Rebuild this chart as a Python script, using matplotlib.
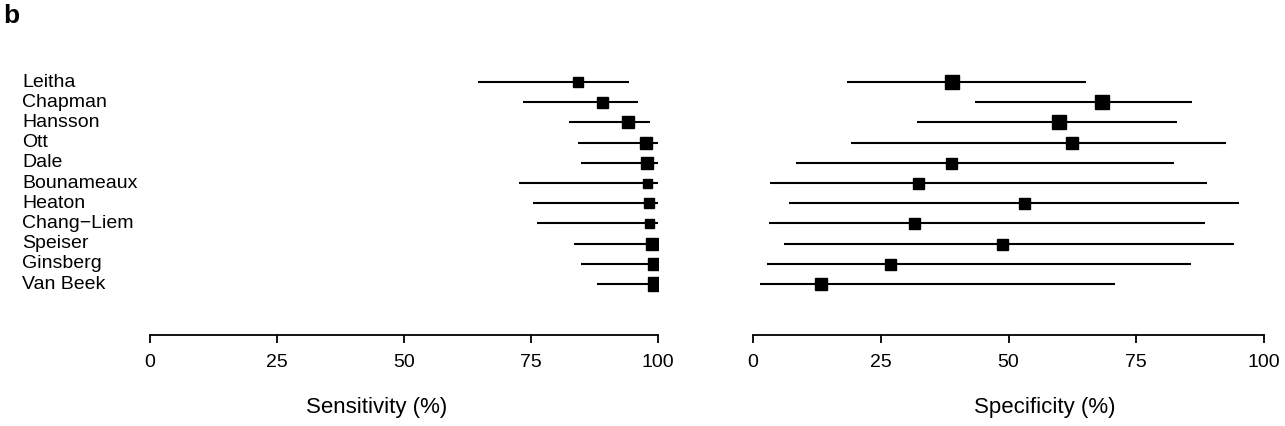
import matplotlib
matplotlib.use('Agg')
import matplotlib.pyplot as plt
import matplotlib.transforms as mtransforms
import numpy as np

# Study names, top to bottom
studies = ['Leitha', 'Chapman', 'Hansson', 'Ott', 'Dale', 'Bounameaux',
           'Heaton', 'Chang\u2212Liem', 'Speiser', 'Ginsberg', 'Van Beek']

# Sensitivity (%) point estimates and 95% CI
sens = [84.2, 88.9, 94.0, 97.6, 97.8, 97.9, 98.2, 98.3, 98.9, 99.2, 99.4]
sens_lo = [64.6, 73.5, 82.5, 84.3, 84.8, 72.7, 75.3, 76.1, 83.4, 84.8, 87.9]
sens_hi = [94.3, 96.0, 98.4, 100, 100, 100, 100, 100, 100, 100, 100]
sens_weight = [9.3, 11, 12, 12, 12, 9, 10, 9, 12, 12, 14]

# Specificity (%) point estimates and 95% CI
spec = [38.9, 68.2, 59.9, 62.5, 38.8, 32.2, 53.1, 31.6, 48.7, 26.9, 13.3]
spec_lo = [18.3, 43.4, 32.0, 19.1, 8.5, 3.4, 7.0, 3.2, 6.0, 2.8, 1.4]
spec_hi = [65.2, 86.0, 82.9, 92.6, 82.4, 88.8, 95.1, 88.5, 94.1, 85.7, 70.8]
spec_weight = [14, 14.7, 14, 11.3, 11, 11, 11, 11, 11, 11, 12]

ticks = [0, 25, 50, 75, 100]

plt.rcParams['font.family'] = ['Liberation Sans', 'DejaVu Sans']

W, H = 1285, 426
fig = plt.figure(figsize=(W / 100, H / 100), dpi=100)

y = np.arange(len(studies), 0, -1)
ax_bottom = 1 - 335 / H
ax_height = (335 - 61.8) / H

# pixel extents of the 0..100 range, label, label centre (data units)
panels = [
    (150, 658, sens, sens_lo, sens_hi, sens_weight, 'Sensitivity (%)', 44.7),
    (753, 1264, spec, spec_lo, spec_hi, spec_weight, 'Specificity (%)', 57.1),
]

axes = []
for x0, x1, est, lo, hi, wt, label, lab_x in panels:
    ax = fig.add_axes([x0 / W, ax_bottom, (x1 - x0) / W, ax_height])
    ax.hlines(y, lo, hi, color='black', lw=1.5)
    for yi, e, w in zip(y, est, wt):
        ax.plot(e, yi, marker='s', color='black', markersize=w * 0.72, ls='none')
    ax.set_xlim(0, 100)
    ax.set_ylim(-1.52, 12)
    for s in ['top', 'right', 'left']:
        ax.spines[s].set_visible(False)
    ax.spines['bottom'].set_linewidth(1.3)
    ax.set_yticks([])
    ax.set_xticks(ticks)
    ax.set_xticklabels([str(t) for t in ticks], fontsize=14)
    ax.tick_params(axis='x', length=6, width=1.3, pad=8)

    trans = mtransforms.blended_transform_factory(ax.transData, fig.transFigure)
    ax.text(lab_x, 1 - 408 / H, label, fontsize=16, ha='center', va='center',
            transform=trans)
    axes.append(ax)

# study names on the left
trans = mtransforms.blended_transform_factory(fig.transFigure, axes[0].transData)
for yi, name in zip(y, studies):
    axes[0].text(22 / W, yi, name, fontsize=14, ha='left', va='center',
                 transform=trans, clip_on=False)

fig.text(3 / W, 1 - 16 / H, 'b', fontsize=19, fontweight='bold',
         ha='left', va='center')

fig.savefig('out.png', dpi=100)
